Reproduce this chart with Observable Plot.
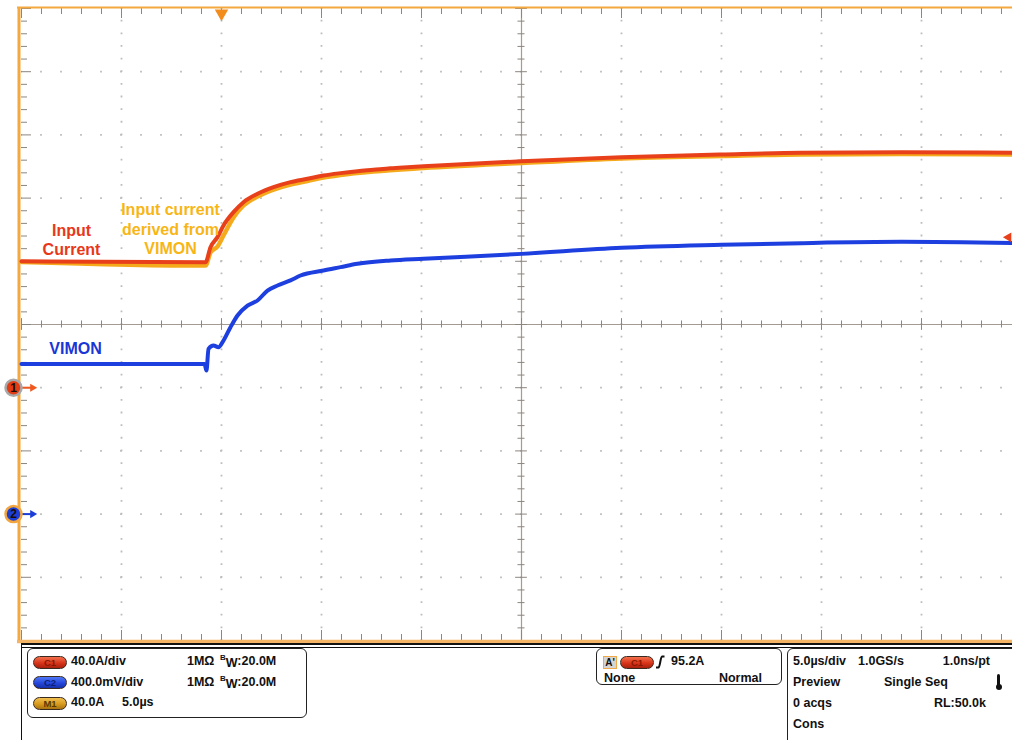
<!DOCTYPE html>
<html>
<head>
<meta charset="utf-8">
<script src="https://cdn.jsdelivr.net/npm/d3@7"></script>
<script src="https://cdn.jsdelivr.net/npm/@observablehq/plot@0.6"></script>
<style>
  html, body { margin: 0; padding: 0; background: #fff; overflow: hidden; }
  #page { position: relative; width: 1012px; height: 740px; font-family: "Liberation Sans", Arial, sans-serif; }
  #scope svg { display: block; }
  .abs { position: absolute; }
  .txt { position: absolute; font: bold 12.5px/15px "Liberation Sans", Arial, sans-serif; color: #111; white-space: nowrap; }
  .box { position: absolute; border: 1px solid #222; border-radius: 6px; background: #fff; }
  .pill { position: absolute; width: 32px; height: 11px; border-radius: 7px; border: 1px solid #3a2a20;
          font: bold 9.5px/11px "Liberation Sans", Arial, sans-serif; text-align: center; }
  .c1 { background: linear-gradient(#f4704c, #d8341a 55%, #a8200c); color: #8a1800; }
  .c2 { background: linear-gradient(#4f78f6, #2446dc 55%, #1530a8); color: #0c1f7a; }
  .m1 { background: linear-gradient(#f0c050, #d89a1c 55%, #a87410); color: #5a3800; }
  .sup { font-size: 8px; position: relative; top: -5px; }
  .sub { position: relative; top: 2px; }
</style>
</head>
<body>
<div id="page">
  <div id="scope"></div>
</div>
<script>
// Acquisition settings
const CH1_A_PER_DIV = 40;      // C1: input current probe
const CH1_OFFSET_DIV = 4;      // C1 ground marker, divisions above bottom
const CH2_V_PER_DIV = 0.4;     // C2: VIMON voltage
const CH2_OFFSET_DIV = 2;      // C2 ground marker
const TRIGGER_LEVEL_A = 95.2;

// C1 - measured input current (A) vs time (µs, trigger at 0)
const tInput = [-10, -0.8, -0.55, -0.2, 0.1, 0.6, 1.1, 1.8, 2.6, 3.45, 4.3, 5.1, 5.95, 6.8, 7.6, 8.45, 9.3, 10.1, 15, 20, 25, 29, 34, 39.6];
const inputCurrentA = [80.1, 79.4, 88.9, 95.3, 102.7, 111.1, 117.4, 122.7, 126.9, 130.1, 132.2, 134.3, 135.8, 137.0, 137.9, 138.9, 139.6, 140.2, 143.3, 145.9, 147.6, 148.7, 149.0, 148.7];

// M1 - input current derived from VIMON (A)
const tDerived = [-10, -0.8, -0.55, -0.2, 0.1, 0.6, 1.1, 1.8, 2.6, 3.45, 4.3, 5.1, 5.95, 7.6, 10.1, 15, 20, 25, 29, 34, 39.6];
const derivedCurrentA = [79.6, 77.3, 85.6, 89.4, 96.3, 107.7, 115.3, 121.0, 125.4, 128.6, 130.8, 133.0, 134.6, 136.8, 139.0, 142.2, 145.1, 146.6, 147.6, 147.9, 147.6];

// C2 - VIMON (V)
const tVimon = [-10, -0.85, -0.75, -0.65, -0.4, -0.15, 0.1, 0.45, 0.8, 1.3, 1.8, 2.3, 2.8, 3.45, 3.95, 5.1, 5.95, 6.8, 8.45, 10.1, 15, 20, 25, 29, 34, 39.6];
const vimonV = [0.950, 0.950, 0.909, 1.046, 1.067, 1.056, 1.099, 1.183, 1.257, 1.320, 1.352, 1.415, 1.447, 1.479, 1.510, 1.542, 1.563, 1.584, 1.605, 1.616, 1.647, 1.685, 1.704, 1.715, 1.723, 1.715];

// Channel ground markers
const groundMarkers = [
  {label: "1", div: CH1_OFFSET_DIV, fill: "#e23c14", ring: "#a8a8a8", arrow: "#f0581e"},
  {label: "2", div: CH2_OFFSET_DIV, fill: "#1c3ed8", ring: "#f2a640", arrow: "#1c3ed8"}
];

const input = tInput.map((t, i) => ({t, v: inputCurrentA[i]}));
const derived = tDerived.map((t, i) => ({t, v: derivedCurrentA[i]}));
const vimon = tVimon.map((t, i) => ({t, v: vimonV[i]}));

const ch1Div = a => CH1_OFFSET_DIV + a / CH1_A_PER_DIV;
const ch2Div = v => CH2_OFFSET_DIV + v / CH2_V_PER_DIV;

// Graticule geometry (in divisions / µs)
const X0 = -10, X1 = 39.55;
const PX_PER_US = 20, PX_PER_DIV = 63.2;
const minorT = d3.range(-10, 40, 1);
const majorT = d3.range(-10, 40, 5);
const minorD = d3.range(0, 10.001, 0.2);
const majorD = d3.range(0, 11, 1);
const isMajorT = t => t % 5 === 0;
const isMajorD = d => Math.abs(d - Math.round(d)) < 1e-6;
const tickLenD = t => (isMajorT(t) ? 10 : 6) / PX_PER_DIV;
const tickLenT = d => (isMajorD(d) ? 10 : 6) / PX_PER_US;

const orange = "#f4a83e";
const tickGray = "#8c8680";
const dotGray = "#bdbdbd";

const chart = Plot.plot({
  width: 1012,
  height: 645,
  marginLeft: 21,
  marginRight: 0,
  marginTop: 8,
  marginBottom: 5,
  x: {domain: [X0, X1], axis: null},
  y: {domain: [0, 10], axis: null},
  style: {fontFamily: "'Liberation Sans', Arial, sans-serif", background: "white"},
  marks: [
    // dotted graticule
    Plot.ruleY(majorD.filter(d => d > 0 && d < 10 && d !== 5), {stroke: dotGray, strokeWidth: 1.8, strokeDasharray: "1.8 18.2", strokeDashoffset: 0.9}),
    Plot.ruleX(majorT.filter(t => t > -10 && t !== 15), {stroke: dotGray, strokeWidth: 1.8, strokeDasharray: "1.8 10.84", strokeDashoffset: 0.9}),
    // centre cross with ticks
    Plot.ruleY([5], {stroke: "#a39c92", strokeWidth: 1.2}),
    Plot.ruleX([15], {stroke: "#a39c92", strokeWidth: 1.2}),
    Plot.ruleX(minorT, {x: d => d, y1: d => 5 - tickLenD(d) / 1.7, y2: d => 5 + tickLenD(d) / 1.7, stroke: tickGray, strokeWidth: 1}),
    Plot.ruleY(minorD, {y: d => d, x1: d => 15 - tickLenT(d) / 1.7, x2: d => 15 + tickLenT(d) / 1.7, stroke: tickGray, strokeWidth: 1}),
    // border ticks
    Plot.ruleX(minorT, {x: d => d, y1: 10, y2: d => 10 - tickLenD(d), stroke: tickGray, strokeWidth: 1}),
    Plot.ruleX(minorT, {x: d => d, y1: 0, y2: d => tickLenD(d), stroke: tickGray, strokeWidth: 1}),
    Plot.ruleY(minorD, {y: d => d, x1: X0, x2: d => X0 + tickLenT(d), stroke: tickGray, strokeWidth: 1}),
    // orange frame
    Plot.ruleY([10], {x1: X0 - 0.2, x2: X1, stroke: orange, strokeWidth: 2.2, dy: -1}),
    Plot.ruleY([0], {x1: X0 - 0.2, x2: X1, stroke: "#f3b565", strokeWidth: 3.5, dy: 1}),
    Plot.ruleX([X0], {y1: 0, y2: 10, stroke: orange, strokeWidth: 3, dx: -2.5}),

    // waveforms
    Plot.line(derived, {x: "t", y: d => ch1Div(d.v), stroke: "#f5aa1c", strokeWidth: 4.4, curve: "monotone-x"}),
    Plot.line(input, {x: "t", y: d => ch1Div(d.v), stroke: "#e8401a", strokeWidth: 4, curve: "monotone-x"}),
    Plot.line(vimon, {x: "t", y: d => ch2Div(d.v), stroke: "#1d3fe0", strokeWidth: 4, curve: "monotone-x"}),

    // trace annotations
    Plot.text(["Input\nCurrent"], {x: () => -7.5, y: () => 6.35, fill: "#e8381a", fontSize: 16, fontWeight: "bold", lineHeight: 1.2, textAnchor: "middle"}),
    Plot.text(["Input current\nderived from\nVIMON"], {x: () => -2.55, y: () => 6.52, fill: "#f7b616", fontSize: 16, fontWeight: "bold", lineHeight: 1.2, textAnchor: "middle"}),
    Plot.text(["VIMON"], {x: () => -7.3, y: () => 4.62, fill: "#1a36d6", fontSize: 16, fontWeight: "bold", textAnchor: "middle"}),

    // trigger position and level markers
    Plot.dot([0], {x: d => d, y: () => 10, dy: 5, symbol: "triangle", rotate: 180, r: 5, fill: "#f28c1c"}),
    Plot.dot([TRIGGER_LEVEL_A], {x: () => X1, y: d => ch1Div(d), dx: -4, symbol: "triangle", rotate: -90, r: 3.6, fill: "#e8401a"}),

    // channel ground markers
    Plot.ruleY(groundMarkers, {y: "div", x1: X0 + 0.05, x2: X0 + 0.5, stroke: "arrow", strokeWidth: 2}),
    Plot.dot(groundMarkers, {x: () => X0 + 0.55, y: "div", symbol: "triangle", rotate: 90, r: 3, fill: "arrow"}),
    Plot.dot(groundMarkers, {x: () => X0, y: "div", dx: -8, r: 8, fill: "fill", stroke: "ring", strokeWidth: 2.5}),
    Plot.text(groundMarkers, {x: () => X0, y: "div", dx: -8, text: "label", fill: "#1a0a05", fontSize: 12, fontWeight: "bold"})
  ]
});
document.getElementById("scope").appendChild(chart);

// Status area below the graticule
const page = document.getElementById("page");
function el(cls, style, html) {
  const e = document.createElement("div");
  e.className = cls;
  Object.assign(e.style, style);
  if (html !== undefined) e.innerHTML = html;
  page.appendChild(e);
  return e;
}
const txt = (x, baseline, s, right) => el("txt", right ? {right: (1012 - x) + "px", top: (baseline - 12) + "px"} : {left: x + "px", top: (baseline - 12) + "px"}, s);

el("abs", {left: "21px", top: "643px", width: "991px", height: "1.6px", background: "#111"});
el("abs", {left: "21px", top: "646.6px", width: "991px", height: "1.4px", background: "#111"});
el("abs", {left: "20.5px", top: "643px", width: "1.8px", height: "97px", background: "#111"});

// vertical / math channel settings
el("box", {left: "27px", top: "648px", width: "278px", height: "68px"});
const rows = [
  {cls: "c1", name: "C1", scale: "40.0A/div", term: true},
  {cls: "c2", name: "C2", scale: "400.0mV/div", term: true},
  {cls: "m1", name: "M1", scale: "40.0A", extra: "5.0µs"}
];
rows.forEach((r, i) => {
  const b = 666 + i * 20.7;
  el("pill " + r.cls, {left: "33px", top: (b - 10.5) + "px"}, r.name);
  txt(71, b, r.scale);
  if (r.term) {
    txt(187, b, "1MΩ");
    txt(220, b, '<span class="sup">B</span><span class="sub">W</span>:20.0M');
  }
  if (r.extra) txt(122, b, r.extra);
});

// trigger settings
el("box", {left: "596px", top: "648px", width: "184px", height: "35px"});
el("abs", {left: "603px", top: "656px", width: "12px", height: "11px", background: "#d4d4d4", border: "1px solid #f0a848",
  font: "bold 10px/11px 'Liberation Sans', Arial, sans-serif", textAlign: "center", color: "#111"}, "A'");
el("pill c1", {left: "620px", top: "655.5px"}, "C1");
el("abs", {left: "655px", top: "655px", width: "10px", height: "14px"},
  '<svg width="10" height="14"><path d="M1 12.5 H3.5 C5 12.5 5.5 1.5 7 1.5 H9.5" fill="none" stroke="#111" stroke-width="2"/></svg>');
txt(671, 666, "95.2A");
txt(604, 683, "None");
txt(762, 683, "Normal", true);

// horizontal / acquisition settings
el("box", {left: "787px", top: "648px", width: "260px", height: "110px"});
txt(793, 666, "5.0µs/div");
txt(858, 666, "1.0GS/s");
txt(990, 666, "1.0ns/pt", true);
txt(793, 687, "Preview");
txt(884, 687, "Single Seq");
txt(793, 708, "0 acqs");
txt(986, 708, "RL:50.0k", true);
txt(793, 729, "Cons");
el("abs", {left: "997px", top: "674px", width: "3px", height: "13px", background: "#111", borderRadius: "1.5px"});
el("abs", {left: "995.5px", top: "684px", width: "6px", height: "6px", background: "#111", borderRadius: "50%"});
</script>
</body>
</html>
